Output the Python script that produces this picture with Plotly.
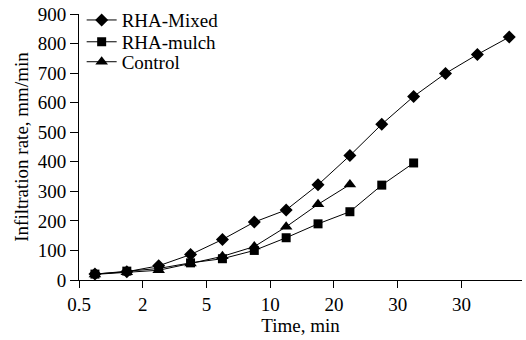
import plotly.graph_objects as go

# Tick labels (category axis)
tick_labels = ["0.5", "2", "5", "10", "20", "30", "30"]
tick_pos = [0, 1, 2, 3, 4, 5, 6]

# Sample positions along the time axis (in tick units)
x_mixed = [0.25, 0.75, 1.25, 1.75, 2.25, 2.75, 3.25, 3.75, 4.25, 4.75, 5.25, 5.75, 6.25, 6.75]
y_mixed = [20, 28, 48, 86, 137, 196, 237, 322, 421, 527, 621, 699, 763, 822]

x_mulch = [0.25, 0.75, 1.25, 1.75, 2.25, 2.75, 3.25, 3.75, 4.25, 4.75, 5.25]
y_mulch = [20, 30, 39, 58, 72, 100, 143, 190, 231, 321, 396]

x_control = [0.25, 0.75, 1.25, 1.75, 2.25, 2.75, 3.25, 3.75, 4.25]
y_control = [19, 26, 33, 56, 80, 113, 180, 256, 323]

font_family = "Liberation Serif"

fig = go.Figure()
fig.add_trace(go.Scatter(x=x_mixed, y=y_mixed, name="RHA-Mixed", mode="lines+markers",
                         line=dict(color="black", width=1), legend="legend",
                         marker=dict(symbol="diamond", size=10, color="black")))
fig.add_trace(go.Scatter(x=x_mulch, y=y_mulch, name="RHA-mulch", mode="lines+markers",
                         line=dict(color="black", width=1), legend="legend2",
                         marker=dict(symbol="square", size=9, color="black")))
fig.add_trace(go.Scatter(x=x_control, y=y_control, name="Control", mode="lines+markers",
                         line=dict(color="black", width=1), legend="legend3",
                         marker=dict(symbol="triangle-up", size=11, color="black")))

leg_common = dict(x=0.006, xanchor="left", yanchor="middle",
                  bgcolor="rgba(0,0,0,0)", font=dict(size=19, family=font_family),
                  itemwidth=30)

fig.update_layout(
    width=526, height=340,
    margin=dict(l=79, r=4, t=14, b=60, autoexpand=False),
    paper_bgcolor="white", plot_bgcolor="white",
    font=dict(family=font_family, size=19, color="black"),
    showlegend=True,
    legend=dict(y=0.977, **leg_common),
    legend2=dict(y=0.895, **leg_common),
    legend3=dict(y=0.82, **leg_common),
    xaxis=dict(range=[0, 6.95], tickvals=tick_pos, ticktext=tick_labels,
               showline=True, linecolor="black", linewidth=1,
               ticks="outside", ticklen=7, tickcolor="black",
               tickfont=dict(family=font_family, size=19),
               showgrid=False, zeroline=False,
               title=dict(text="Time, min", standoff=4,
                          font=dict(family=font_family, size=19))),
    yaxis=dict(range=[0, 900], dtick=100,
               showline=True, linecolor="black", linewidth=1,
               ticks="outside", ticklen=8, tickcolor="black",
               tickfont=dict(family=font_family, size=19),
               showgrid=False, zeroline=False,
               title=dict(text="Infiltration rate, mm/min", standoff=4,
                          font=dict(family=font_family, size=19))),
)

fig.write_html("out.html", config={"displayModeBar": False},
               post_script="document.body.style.margin='0';")
